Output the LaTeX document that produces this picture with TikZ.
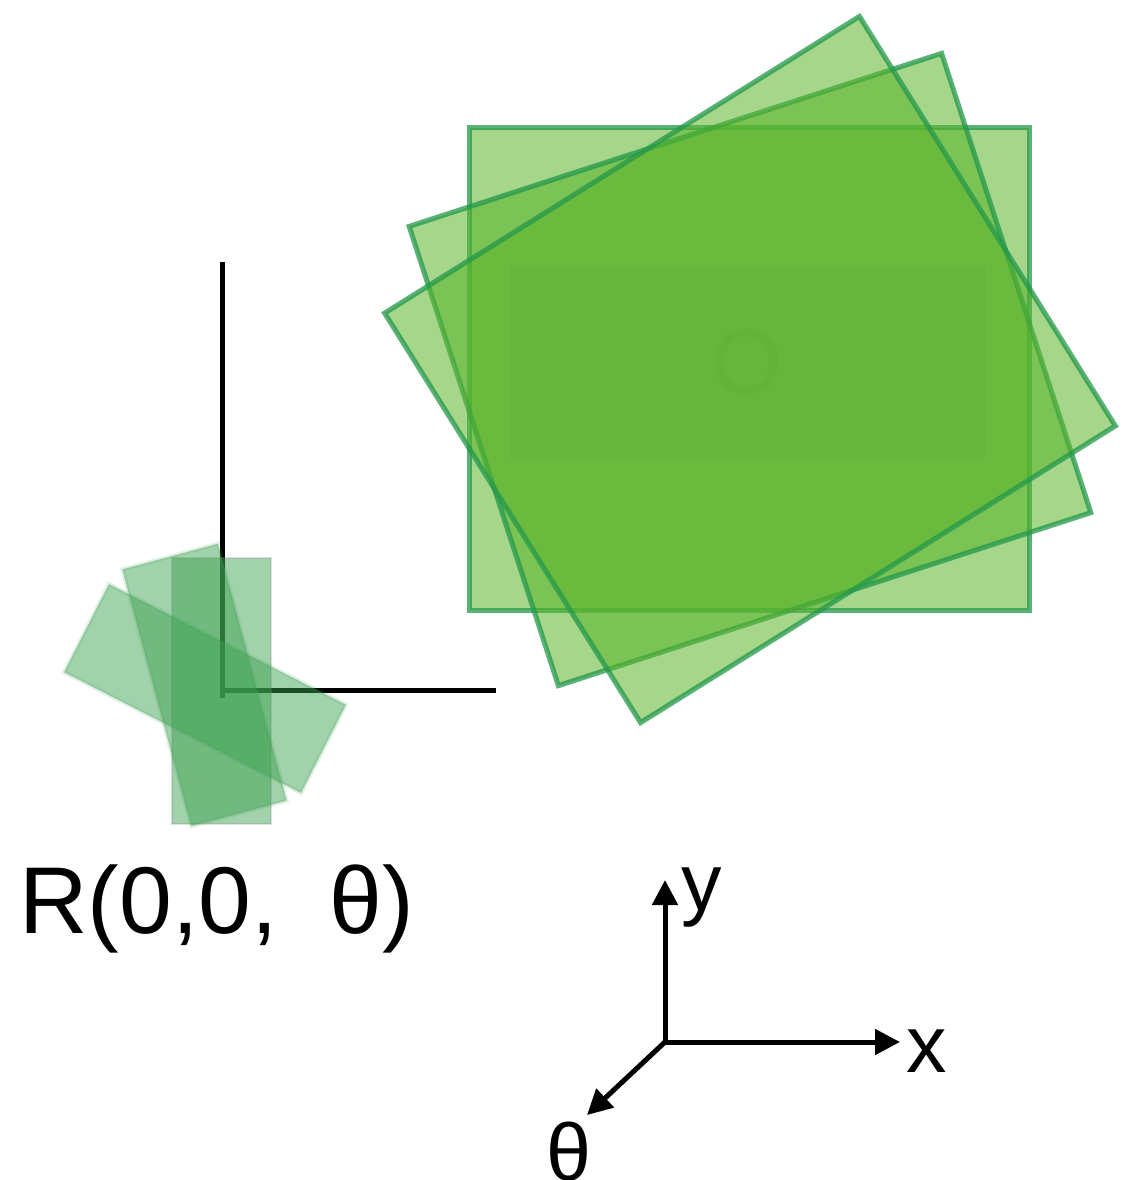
\documentclass[tikz,border=0pt]{standalone}
\usepackage{fontspec}
\setmainfont{Liberation Sans}
\usetikzlibrary{arrows.meta}
\definecolor{panegreen}{HTML}{5BB42A}
\definecolor{paneedge}{HTML}{23984A}
\definecolor{patchgreen}{HTML}{3CA050}
\definecolor{centerbox}{HTML}{3F8F22}

\begin{document}
\begin{tikzpicture}[
  x=0.02cm,
  y=-0.02cm,
  pane/.style={rectangle,draw=paneedge,draw opacity=0.75,fill=panegreen,fill opacity=0.55,
    line width=0.1cm,minimum width=11.2cm,minimum height=9.66cm,inner sep=0},
  patch/.style={rectangle,draw=patchgreen,draw opacity=0.15,fill=patchgreen,fill opacity=0.48,
    line width=0.08cm,minimum width=1.98cm,minimum height=5.32cm,inner sep=0},
  frame/.style={draw=black,line width=0.1cm},
  axisarrow/.style={draw=black,line width=0.1cm,-{Triangle[length=0.5cm,width=0.5cm]}},
  axislabel/.style={inner sep=0,font=\fontsize{46}{50}\selectfont}
]
  \useasboundingbox (0,0) rectangle (1122,1180);

  % Big sheet at three orientations around the same centre.
  \node[pane] (sheet0) at (749.5,369) {};
  \node[pane,rotate=18] (sheet18) at (750,369.5) {};
  \node[pane,rotate=32] (sheet32) at (750,369.5) {};
  \node[rectangle,fill=centerbox,fill opacity=0.1,text=centerbox,text opacity=0.07,inner sep=0,
    minimum width=9.5cm,minimum height=3.88cm,font=\fontsize{52}{56}\selectfont] (origin) at (747.5,362) {O};

  % Reference frame corner.
  \coordinate (Ltop) at (222,262);
  \coordinate (Lfoot) at (222,698);
  \coordinate (Lcorner) at (220,690);
  \coordinate (Lend) at (496,690);
  \draw[frame] (Ltop) -- (Lfoot);
  \draw[frame] (Lcorner) -- (Lend);

  % Small patch rotated about the frame origin.
  \node[patch,draw=gray,draw opacity=0.25,line width=0.04cm] (patch0) at (221.5,691) {};
  \node[patch,rotate=15] (patch15) at (204.5,685) {};
  \node[patch,rotate=63] (patch63) at (205,688.5) {};

  \node[anchor=base west,inner sep=0,font=\fontsize{54}{60}\selectfont] (rtext) at (19,933) {R(0,0,\hspace{0.55em}θ)};

  % Axes.
  \coordinate (orig) at (665,1042);
  \coordinate (ytip) at (665,880);
  \coordinate (xtip) at (900,1042);
  \coordinate (ttip) at (587,1115);
  \draw[axisarrow] (orig) -- (ytip);
  \draw[axisarrow] (orig) -- (xtip);
  \draw[axisarrow] (orig) -- (ttip);
  \node[axislabel,anchor=base west] (ylab) at (681,910) {y};
  \node[axislabel,anchor=base west] (xlab) at (906,1072) {x};
  \node[axislabel,anchor=base west] (tlab) at (546,1180) {θ};
\end{tikzpicture}
\end{document}
